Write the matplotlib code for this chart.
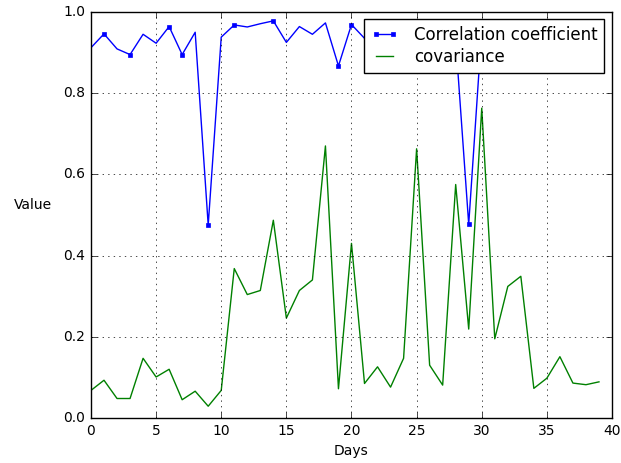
import numpy as np
import matplotlib
matplotlib.use("Agg")
import matplotlib.pyplot as plt

# daily values
days = list(range(40))
corr = [0.912, 0.946, 0.909, 0.895, 0.945, 0.923, 0.964, 0.895, 0.950, 0.475,
        0.938, 0.968, 0.963, 0.971, 0.978, 0.925, 0.964, 0.945, 0.973, 0.867,
        0.969, 0.935, 0.950, 0.960, 0.945, 0.955, 0.940, 0.950, 0.930, 0.477,
        0.955, 0.950, 0.960, 0.945, 0.950, 0.955, 0.940, 0.950, 0.945, 0.950]
cov = [0.068, 0.093, 0.048, 0.048, 0.147, 0.101, 0.120, 0.045, 0.066, 0.029,
       0.068, 0.368, 0.304, 0.314, 0.487, 0.246, 0.314, 0.340, 0.670, 0.072,
       0.430, 0.085, 0.126, 0.076, 0.147, 0.663, 0.130, 0.081, 0.575, 0.219,
       0.763, 0.195, 0.324, 0.349, 0.073, 0.098, 0.151, 0.086, 0.082, 0.089]
marked = [1, 3, 6, 7, 9, 11, 14, 19, 20, 29]

plt.style.use("classic")
plt.rcParams["figure.facecolor"] = "white"
plt.rcParams["savefig.facecolor"] = "white"
plt.rcParams["font.size"] = 10

fig = plt.figure(figsize=(6.21, 4.63), dpi=100)
ax = fig.add_axes([0.1465, 0.0972, 0.839, 0.877])

ax.plot(days, corr, "b-", marker="s", markersize=3, markeredgecolor="b",
        markevery=marked, label="Correlation coefficient")
ax.plot(days, cov, "g-", label="covariance")

ax.set_xlim(0, 40)
ax.set_ylim(0, 1.0)
ax.grid(True)
ax.tick_params(labelsize=10)
ax.set_xlabel("Days", fontsize=10)
ax.set_ylabel("Value", rotation=0, ha="center", va="center", fontsize=10)
ax.yaxis.set_label_coords(-0.111, 0.525)
ax.legend(loc="upper right", numpoints=2, fontsize=12, borderaxespad=0.45,
          borderpad=0.4, labelspacing=0.25, handlelength=1.6, handletextpad=1.0)

fig.savefig("out.png", dpi=100)
